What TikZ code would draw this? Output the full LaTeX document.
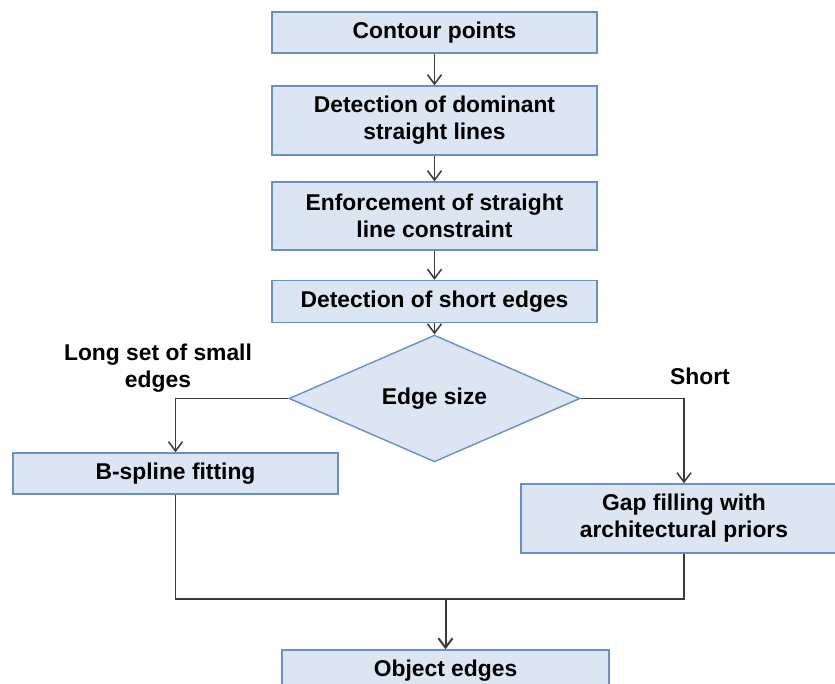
\documentclass[tikz,border=0pt]{standalone}
\usepackage{fontspec}
\setmainfont{Liberation Sans}
\usepackage{xcolor}
\usepackage{tikz}
\usetikzlibrary{arrows.meta,positioning,shapes.geometric}

\definecolor{boxfill}{HTML}{DCE6F2}
\definecolor{boxline}{HTML}{6A8FC4}
\definecolor{wire}{HTML}{3A3A3A}

\begin{document}
\begin{tikzpicture}[x=0.03cm,y=-0.03cm,
    txt/.style={font=\fontsize{19.5}{23}\selectfont\bfseries, align=center},
    stage/.style={txt, draw=boxline, line width=1.2pt, fill=boxfill,
      minimum width=9.75cm, inner sep=0pt},
    choice/.style={txt, diamond, draw=boxline, line width=1.2pt, fill=boxfill,
      minimum width=8.73cm, minimum height=3.21cm, inner sep=0pt},
    arr/.style={wire, line width=1.3pt, -{Straight Barb[length=8pt,width=12pt]}},
    wireline/.style={wire, line width=1.5pt}]
  \useasboundingbox (0,0) rectangle (835,684);
  \clip (0,0) rectangle (835,684);

  \node[stage, minimum height=1.23cm] (contour) at (434.5,32.5) {Contour points};
  \node[stage, minimum height=2.07cm] (dominant) at (434.5,120.5) {Detection of dominant\\straight lines};
  \node[stage, minimum height=2.04cm] (enforce) at (434.5,216) {Enforcement of straight\\line constraint};
  \node[stage, minimum height=1.26cm] (shortedges) at (434.5,301.5) {Detection of short edges};
  \node[choice] (size) at (434.5,398.5) {Edge size};
  \node[stage, minimum height=1.23cm] (spline) at (175.5,473.5) {B-spline fitting};
  \node[stage, minimum width=9.78cm, minimum height=2.07cm] (gap) at (684,518.5) {Gap filling with\\architectural priors};
  \node[stage, minimum width=9.81cm, minimum height=1.23cm] (object) at (445.5,670.5) {Object edges};

  \node[txt] (longlbl) at (158,368.5) {Long set of small\\edges};
  \node[txt] (shortlbl) at (700,376) {Short};

  \coordinate (join) at (445.5,599);

  \foreach \a/\b in {contour/dominant,dominant/enforce,enforce/shortedges,shortedges/size}
    \draw[arr] (\a) -- (\b);
  \draw[arr] (size.west) -| (spline.north);
  \draw[arr] (size.east) -| (gap.north);
  \draw[wireline] (spline.south) |- (join) -| (gap.south);
  \draw[arr, line width=1.7pt] (join) -- (object.north);
\end{tikzpicture}
\end{document}
